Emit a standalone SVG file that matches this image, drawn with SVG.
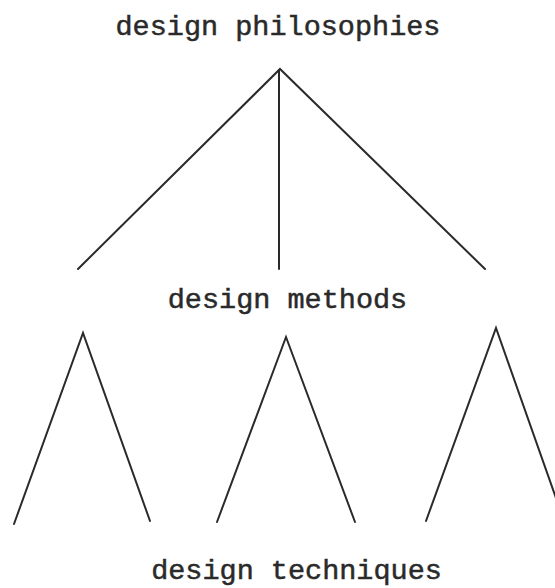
<svg xmlns="http://www.w3.org/2000/svg" width="555" height="588" viewBox="0 0 555 588">
<style>
.lbl{font-family:"Liberation Mono","Courier New",monospace;font-size:28.5px;fill:#2a2a2a;stroke:#2a2a2a;stroke-width:0.5px;text-anchor:middle}
.ln{stroke:#2a2a2a;stroke-width:2;fill:none;stroke-linecap:round;stroke-linejoin:miter}
</style>
<rect width="555" height="588" fill="#ffffff"/>
<g id="philosophies"><text class="lbl" x="278" y="35">design philosophies</text></g>
<g id="methods"><text class="lbl" x="287.5" y="308">design methods</text></g>
<g id="techniques"><text class="lbl" x="296.5" y="579">design techniques</text></g>
<g id="connectors">
<polyline class="ln" points="78,269 280,69 485,269"/>
<line class="ln" x1="279" y1="70" x2="279" y2="269"/>
<polyline class="ln" points="14,524 83,333 150,521"/>
<polyline class="ln" points="217,522 286,337 355,522"/>
<polyline class="ln" points="426,521 496,328 556,498"/>
</g>
</svg>
